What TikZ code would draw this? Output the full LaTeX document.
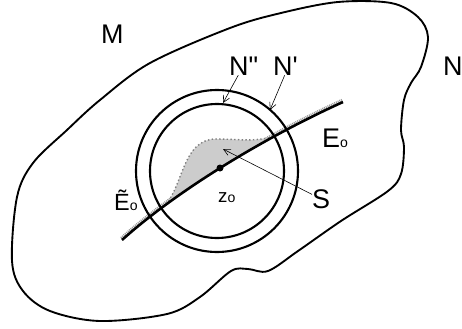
\documentclass[tikz,border=0pt]{standalone}
\usepackage{fontspec}
\setmainfont{Liberation Sans}
\usetikzlibrary{arrows.meta}
\newcommand{\lowo}{{\fontsize{12}{12}\selectfont o}}
\begin{document}
\begin{tikzpicture}[x=0.03cm,y=-0.03cm,every node/.style={font=\fontsize{23}{26}\selectfont,inner sep=0pt,anchor=base west},lbl/.style={-{Straight Barb[length=2mm,width=2mm]},line width=0.5pt}]
\useasboundingbox (0,0) rectangle (462,329);
% the set M
\draw[line width=1.6pt] plot[smooth cycle,tension=0.55] coordinates {(230,28) (150,63) (100,100) (67,130) (33,163) (17,197) (12,261) (23,291) (50,311) (100,321) (167,314) (200,297) (231,271) (248,269) (268,271) (298,251) (341,221) (388,191) (401,174) (404,147) (401,130) (404,100) (411,83) (421,67) (428,37) (418,17) (391,3) (338,2) (281,13)};
% the curve E and the set S
\draw[gray!80,dash pattern=on 0.8pt off 0.8pt,line width=2pt,shift={(-1,-2)}] (122,240) .. controls (173,194) and (259,140) .. (343,102);
\coordinate (z) at (220,168);
\fill[gray!40] (166,204) .. controls (183,185) and (183,140) .. (215,139) .. controls (240,139) and (250,142) .. (273,137) -- (z) -- cycle;
\draw[gray,dotted,line width=1.2pt] (166,204) .. controls (183,185) and (183,140) .. (215,139) .. controls (240,139) and (250,142) .. (273,137);
\draw[line width=2.2pt] (122,240) .. controls (173,194) and (259,140) .. (343,102);
\fill (z) circle[radius=3.5];
% the two discs
\coordinate (c) at (217,171);
\draw[line width=1.8pt] (c) circle[radius=67] (c) circle[radius=81];
\node (M) at (101,43) {M};
\node (Npp) at (229,75) {N\textquotedbl};
\node (Np) at (273,75) {N\textquotesingle};
\node (N) at (443,75) {N};
\node (E) at (322,147) {E\lowo};
\node[font=\fontsize{20}{24}\selectfont] (Et) at (114,210) {\~E\lowo};
\node[font=\fontsize{16}{20}\selectfont] (z0) at (218,202) {z\lowo};
\node (S) at (312,208) {S};
\coordinate (ia) at (223,103); \coordinate (oa) at (270,110); \coordinate (sa) at (223,149);
\draw[lbl] (Npp.-120)--(ia); \draw[lbl] (Np.-95)--(oa); \draw[lbl] (S.155)--(sa);
\end{tikzpicture}
\end{document}
